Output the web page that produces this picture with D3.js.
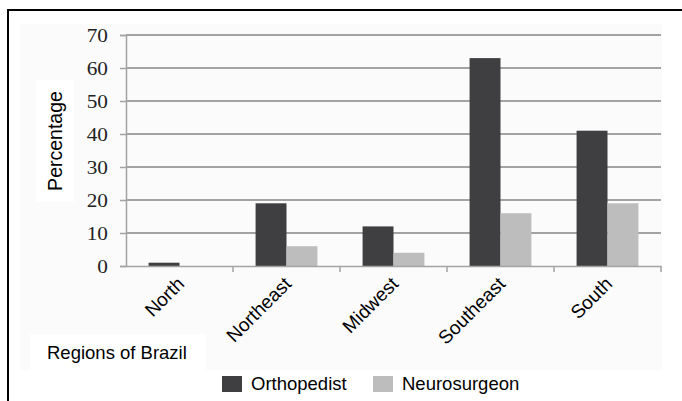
<!DOCTYPE html>
<html>
<head>
<meta charset="utf-8">
<script src="https://cdn.jsdelivr.net/npm/d3@7"></script>
<style>
  body { margin: 0; background: #fff; }
  svg { display: block; }
</style>
</head>
<body>
<svg id="chart"></svg>
<script>
const regions = ["North", "Northeast", "Midwest", "Southeast", "South"];
const seriesNames = ["Orthopedist", "Neurosurgeon"];
const orthopedist = [1, 19, 12, 63, 41];
const neurosurgeon = [0, 6, 4, 16, 19];
const yTicks = [0, 10, 20, 30, 40, 50, 60, 70];
const colors = ["#3f3f41", "#bdbdbd"];

const width = 682;
const height = 401;
const plot = { left: 126, right: 661, top: 35, bottom: 266 };

const svg = d3.select("#chart")
  .attr("width", width)
  .attr("height", height);

// frame + faint panel backgrounds
svg.append("rect")
  .attr("x", 20).attr("y", 24)
  .attr("width", 642).attr("height", 346)
  .attr("fill", "#fbfbfb");
svg.append("rect")
  .attr("x", 36).attr("y", 80)
  .attr("width", 38).attr("height", 122)
  .attr("fill", "#fff");
svg.append("rect")
  .attr("x", 30).attr("y", 334)
  .attr("width", 176).attr("height", 37)
  .attr("fill", "#fff");
svg.append("path")
  .attr("d", `M8,${height + 2}V10H${width + 2}`)
  .attr("fill", "none")
  .attr("stroke", "#000")
  .attr("stroke-width", 2);

const x0 = d3.scaleBand()
  .domain(regions)
  .range([plot.left, plot.right])
  .padding(0);

const x1 = d3.scaleBand()
  .domain(seriesNames)
  .range([0, x0.bandwidth()])
  .paddingInner(0)
  .paddingOuter(0.73);

const y = d3.scaleLinear()
  .domain([0, 70])
  .range([plot.bottom, plot.top]);

// gridlines
svg.append("g")
  .selectAll("line")
  .data(yTicks.filter(d => d > 0))
  .enter().append("line")
  .attr("x1", plot.left)
  .attr("x2", plot.right)
  .attr("y1", d => y(d))
  .attr("y2", d => y(d))
  .attr("stroke", "#a3a3a3")
  .attr("stroke-width", 2);

// y axis
const yAxis = svg.append("g")
  .attr("transform", `translate(${plot.left},0)`)
  .call(d3.axisLeft(y).tickValues(yTicks).tickSize(6).tickPadding(0));
yAxis.select(".domain").attr("stroke", "#a3a3a3").attr("stroke-width", 1.5);
yAxis.selectAll(".tick line").attr("stroke", "#a3a3a3").attr("stroke-width", 1.5);
yAxis.selectAll(".tick text")
  .attr("x", null)
  .attr("font-family", "'Liberation Serif', 'DejaVu Serif', serif")
  .attr("font-size", 18.5)
  .attr("fill", "#222")
  .attr("transform", "translate(-18,1) scale(1.15,1)");

// bars
const data = regions.map((r, i) => ({ region: r, values: [orthopedist[i], neurosurgeon[i]] }));
svg.append("g")
  .selectAll("g")
  .data(data)
  .enter().append("g")
  .attr("transform", d => `translate(${x0(d.region)},0)`)
  .selectAll("rect")
  .data(d => d.values.map((v, j) => ({ key: seriesNames[j], value: v, color: colors[j] })))
  .enter().append("rect")
  .attr("x", d => x1(d.key))
  .attr("width", x1.bandwidth())
  .attr("y", d => y(d.value))
  .attr("height", d => y(0) - y(d.value))
  .attr("fill", d => d.color);

// x axis
const xAxis = svg.append("g")
  .attr("transform", `translate(0,${plot.bottom})`)
  .call(d3.axisBottom(x0).tickSize(0).tickPadding(0));
xAxis.select(".domain").attr("stroke", "#a3a3a3").attr("stroke-width", 1.5);
xAxis.selectAll(".tick text")
  .attr("y", null)
  .attr("dy", null)
  .attr("text-anchor", "end")
  .attr("font-family", "'Liberation Sans', Arial, sans-serif")
  .attr("font-size", 19)
  .attr("fill", "#000")
  .attr("transform", "translate(6,19) rotate(-45)");

// boundary ticks between categories
svg.append("g")
  .selectAll("line")
  .data(regions.slice(1).concat(["end"]))
  .enter().append("line")
  .attr("x1", d => d === "end" ? x0.range()[1] : x0(d))
  .attr("x2", d => d === "end" ? x0.range()[1] : x0(d))
  .attr("y1", plot.bottom)
  .attr("y2", plot.bottom + 6)
  .attr("stroke", "#a3a3a3")
  .attr("stroke-width", 1.5);

// axis titles
svg.append("text")
  .attr("transform", `translate(62,${(90 + 192) / 2}) rotate(-90)`)
  .attr("text-anchor", "middle")
  .attr("font-family", "'Liberation Sans', Arial, sans-serif")
  .attr("font-size", 19.5)
  .attr("fill", "#000")
  .text("Percentage");

svg.append("text")
  .attr("x", 47)
  .attr("y", 359)
  .attr("font-family", "'Liberation Sans', Arial, sans-serif")
  .attr("font-size", 18.5)
  .attr("fill", "#000")
  .text("Regions of Brazil");

// legend
const legendX = [222, 373];
const legend = svg.append("g")
  .selectAll("g")
  .data(seriesNames)
  .enter().append("g")
  .attr("transform", (d, i) => `translate(${legendX[i]},376)`);
legend.append("rect")
  .attr("width", 20)
  .attr("height", 16)
  .attr("fill", (d, i) => colors[i]);
legend.append("text")
  .attr("x", 29)
  .attr("y", 14)
  .attr("font-family", "'Liberation Sans', Arial, sans-serif")
  .attr("font-size", 18.5)
  .attr("fill", "#000")
  .text(d => d);
</script>
</body>
</html>
